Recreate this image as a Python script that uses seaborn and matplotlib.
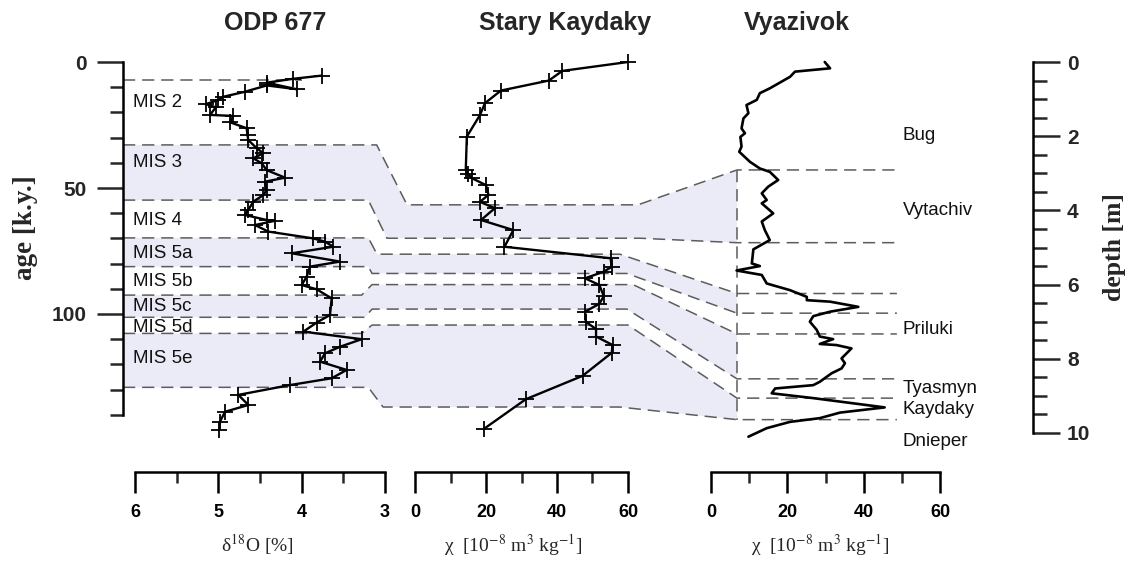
import numpy as np
import matplotlib
matplotlib.use("Agg")
import matplotlib.pyplot as plt
import seaborn as sns
from matplotlib.lines import Line2D
from matplotlib.patches import Polygon

# ---------------- data ----------------
# ODP 677: age [k.y.] and d18O [per mil]
odp_age = [5.4, 6.7, 8.2, 10.8, 9.3, 11.8, 13.8, 15.1, 16.7, 18.0, 21.0, 21.4, 23.9,
           26.3, 29.0, 31.0, 34.2, 36.2, 38.2, 40.2, 42.9, 45.9, 47.5, 50.8, 52.8,
           55.4, 58.7, 60.7, 62.7, 63.0, 64.7, 67.3, 70.0, 71.3, 73.3, 75.9, 79.2,
           81.2, 85.2, 88.5, 90.2, 93.8, 100.4, 103.4, 107.0, 110.0, 113.0, 115.6,
           118.9, 122.2, 125.5, 128.2, 132.1, 136.1, 138.8, 142.7, 146.0]
odp_d18o = [3.76, 4.11, 4.42, 4.06, 4.42, 4.68, 4.94, 5.00, 5.15, 5.03, 5.10, 4.82, 4.86,
            4.66, 4.65, 4.64, 4.54, 4.46, 4.58, 4.48, 4.42, 4.20, 4.44, 4.42, 4.46,
            4.58, 4.64, 4.68, 4.42, 4.32, 4.56, 4.40, 3.86, 3.72, 3.62, 4.12, 3.54,
            3.90, 3.94, 4.00, 3.82, 3.64, 3.66, 3.82, 3.98, 3.28, 3.54, 3.72,
            3.78, 3.46, 3.64, 4.14, 4.76, 4.64, 4.92, 4.98, 4.99]

# Stary Kaydaky: depth [m] and chi
sk_depth = [0.0, 0.24, 0.50, 0.77, 1.11, 1.43, 2.01, 2.91, 3.02, 3.13, 3.32, 3.58, 3.77,
            3.94, 4.26, 4.53, 4.98, 5.29, 5.52, 5.65, 5.83, 6.01, 6.31, 6.52, 6.73,
            7.00, 7.20, 7.40, 7.63, 7.84, 8.46, 9.09, 9.89]
sk_chi = [60.0, 41.5, 37.7, 24.2, 19.7, 18.3, 14.6, 14.3, 15.0, 16.0, 20.0, 20.7, 18.3,
          22.5, 18.6, 27.7, 25.2, 55.1, 55.4, 53.2, 47.9, 51.9, 53.2, 51.9, 47.9,
          48.1, 51.0, 51.0, 55.7, 55.4, 47.2, 31.2, 19.4]

# Vyazivok: depth [m] and chi
vz_depth = [0.0, 0.17, 0.26, 0.40, 0.71, 0.84, 1.02, 1.16, 1.38, 1.52, 1.79, 1.92, 2.02,
            2.28, 2.42, 2.69, 2.87, 2.96, 3.18, 3.36, 3.54, 3.72, 3.81, 4.08, 4.30,
            4.53, 4.80, 5.05, 5.43, 5.50, 5.62, 5.74, 5.97, 6.15, 6.33, 6.42, 6.46,
            6.60, 6.73, 6.85, 7.00, 7.22, 7.40, 7.47, 7.60, 7.63, 7.72, 7.99, 8.12,
            8.26, 8.39, 8.62, 8.71, 8.80, 8.93, 9.06, 9.31, 9.45, 9.60, 9.70, 9.87, 10.10]
vz_chi = [29.8, 31.2, 22.0, 20.7, 15.4, 12.8, 12.0, 9.3, 9.8, 8.5, 8.0, 8.9, 7.7,
          8.0, 7.4, 10.2, 12.8, 15.4, 17.6, 15.0, 13.3, 14.6, 13.3, 16.3, 13.3,
          14.1, 15.4, 11.1, 10.7, 12.8, 6.7, 13.3, 14.6, 20.7, 25.1, 25.1, 31.2,
          38.6, 31.2, 26.8, 25.9, 27.7, 28.5, 32.0, 28.5, 32.9, 36.8, 34.2, 35.1,
          34.2, 31.6, 28.5, 26.8, 16.8, 15.9, 26.8, 45.5, 33.8, 28.5, 20.7, 14.6, 9.8]

# correlation boundaries (ODP age, Stary Kaydaky depth, Vyazivok depth)
bnd_age = [32.9, 54.8, 69.8, 81.2, 92.5, 101.3, 107.7, 129.1]
bnd_sk = [3.85, 4.75, 5.18, 5.70, 6.00, 6.66, 7.09, 9.30]
bnd_vz = [2.91, 4.87, 6.24, 6.77, 7.33, 8.54, 9.06, 9.64]
mis2_top_age = 7.1

mis_labels = ["MIS 2", "MIS 3", "MIS 4", "MIS 5a", "MIS 5b", "MIS 5c", "MIS 5d", "MIS 5e"]
mis_label_age = [15.9, 39.7, 62.7, 75.8, 87.3, 97.2, 105.2, 117.5]

unit_labels = ["Bug", "Vytachiv", "Priluki", "Tyasmyn", "Kaydaky", "Dnieper"]
unit_label_depth = [1.97, 3.99, 7.20, 8.79, 9.38, 10.24]

odp_ticks = [6, 5, 4, 3]
chi_ticks = [0, 20, 40, 60]
age_ticks = [0, 50, 100]
depth_ticks = [0, 2, 4, 6, 8, 10]

# ---------------- style ----------------
sns.set_style("white")
plt.rcParams['font.family'] = ['Liberation Sans', 'DejaVu Sans']
plt.rcParams['mathtext.fontset'] = 'stix'
SERIF = ['Liberation Serif', 'DejaVu Serif']

W, H = 1132, 562
fig = plt.figure(figsize=(W / 100, H / 100), dpi=100)
fig.patch.set_facecolor('white')


def rect(l, t, r, b):
    return [l / W, 1 - b / H, (r - l) / W, (b - t) / H]


TOP, BOT = 62, 472
ax_o = fig.add_axes(rect(123, TOP, 385, BOT))
ax_s = fig.add_axes(rect(415, TOP, 628, BOT))
ax_v = fig.add_axes(rect(711, TOP, 940, BOT))
ov = fig.add_axes([0, 0, 1, 1])
ov.set_xlim(0, 1)
ov.set_ylim(0, 1)
ov.axis('off')
ov.set_zorder(0)
for a in (ax_o, ax_s, ax_v):
    a.set_zorder(2)
    a.patch.set_visible(False)

SPW = 1.8
lk = dict(sort=False, estimator=None, color='black', linewidth=1.7, marker='+',
          markersize=11, markeredgewidth=1.3, markeredgecolor='black')
sns.lineplot(x=odp_d18o, y=odp_age, ax=ax_o, **lk)
sns.lineplot(x=sk_chi, y=sk_depth, ax=ax_s, **lk)
sns.lineplot(x=vz_chi, y=vz_depth, ax=ax_v, sort=False, estimator=None,
             color='black', linewidth=1.9)
for a in (ax_o, ax_s, ax_v):
    for ln in a.lines:
        ln.set_clip_on(False)

ax_o.set_xlim(6 + 12 / 83.33, 3)
ax_o.set_ylim(410 / 2.52, 0)
for a in (ax_s, ax_v):
    a.set_xlim(0, 60)
    a.set_ylim(410 / 37.1, 0)

for a in (ax_o, ax_s, ax_v):
    a.set_xlabel('')
    a.set_ylabel('')
    for s in ('top', 'right', 'left'):
        a.spines[s].set_visible(False)
    a.spines['bottom'].set_linewidth(SPW)
    a.spines['bottom'].set_color('black')
    a.tick_params(axis='x', which='major', direction='out', length=15, width=SPW,
                  pad=8, bottom=True, colors='black')
    a.tick_params(axis='x', which='minor', direction='out', length=8, width=SPW,
                  bottom=True)

# ODP axes
ax_o.spines['bottom'].set_bounds(6, 3)
ax_o.set_xticks(odp_ticks, labels=[str(t) for t in odp_ticks], fontsize=13, fontweight='bold')
ax_o.set_xticks([5.5, 4.5, 3.5], minor=True)
ax_o.spines['left'].set_visible(True)
ax_o.spines['left'].set_linewidth(SPW)
ax_o.spines['left'].set_color('black')
ax_o.spines['left'].set_bounds(0, 140)
ax_o.set_yticks(age_ticks, labels=[str(t) for t in age_ticks], fontsize=15, fontweight='bold')
ax_o.set_yticks(np.arange(0, 141, 10), minor=True)
ax_o.tick_params(axis='y', which='major', direction='out', length=19, width=SPW, pad=7, left=True)
ax_o.tick_params(axis='y', which='minor', direction='out', length=9.5, width=SPW, left=True)

# Stary Kaydaky axes
ax_s.spines['bottom'].set_bounds(0, 60)
ax_s.set_xticks(chi_ticks, labels=[str(t) for t in chi_ticks], fontsize=13, fontweight='bold')
ax_s.set_xticks([10, 30, 50], minor=True)
ax_s.set_yticks([])

# Vyazivok axes + depth axis
ax_v.spines['bottom'].set_bounds(0, 60)
ax_v.set_xticks(chi_ticks, labels=[str(t) for t in chi_ticks], fontsize=13, fontweight='bold')
ax_v.set_xticks([10, 30, 50], minor=True)
ax_v.spines['right'].set_visible(True)
ax_v.spines['right'].set_position(('axes', (1033 - 711) / 229))
ax_v.spines['right'].set_bounds(0, 10)
ax_v.spines['right'].set_linewidth(SPW)
ax_v.spines['right'].set_color('black')
ax_v.yaxis.set_ticks_position('right')
ax_v.set_yticks(depth_ticks, labels=[str(t) for t in depth_ticks], fontsize=15, fontweight='bold')
ax_v.set_yticks(np.arange(0, 10.01, 0.5), minor=True)
ax_v.tick_params(axis='y', which='major', direction='out', length=19.5, width=SPW, pad=5, right=True, left=False)
ax_v.tick_params(axis='y', which='minor', direction='out', length=10, width=SPW, right=True, left=False)

# ---------------- correlation bands and dashed lines ----------------
inv = fig.transFigure.inverted()


def to_fig(ax, x, y):
    return inv.transform(ax.transData.transform((x, y)))


odp_left = 6 + 12 / 83.33
odp_break = [3.10, 3.20, 3.20, 3.20, 3.28, 3.24, 3.28, 3.20]
sk_start = [-2.25, -7.9, -10.7, -12.1, -12.1, -12.1, -12.1, -9.0]
sk_end = [62.8, 63.4, 57.7, 59.7, 61.4, 59.7, 60.0, 57.7]
vz_start, vz_end = 6.8, 48.7

paths = []
for i in range(len(bnd_age)):
    pts = [to_fig(ax_o, odp_left, bnd_age[i]),
           to_fig(ax_o, odp_break[i], bnd_age[i]),
           to_fig(ax_s, sk_start[i], bnd_sk[i]),
           to_fig(ax_s, sk_end[i], bnd_sk[i]),
           to_fig(ax_v, vz_start, bnd_vz[i])]
    paths.append(pts)

BAND = '#ebebf8'
DASH = '#5c5c5c'
for a, b in [(0, 1), (2, 3), (4, 5), (6, 7)]:
    poly = np.vstack([paths[a], paths[b][::-1]])
    ov.add_patch(Polygon(poly, closed=True, facecolor=BAND, edgecolor='none', zorder=1))

dkw = dict(color=DASH, linewidth=1.1, dashes=(8, 4.5), zorder=3)
for i, pts in enumerate(paths):
    full = np.vstack([pts, [to_fig(ax_v, vz_end, bnd_vz[i])]])
    ov.add_line(Line2D(full[:, 0], full[:, 1], **dkw))
p0 = to_fig(ax_v, vz_start, bnd_vz[0])
p1 = to_fig(ax_v, vz_start, bnd_vz[-1])
ov.add_line(Line2D([p0[0], p1[0]], [p0[1], p1[1]], **dkw))
m0 = to_fig(ax_o, odp_left, mis2_top_age)
m1 = to_fig(ax_o, 4.0, mis2_top_age)
ov.add_line(Line2D([m0[0], m1[0]], [m0[1], m1[1]], **dkw))

# ---------------- texts ----------------
for lab, age in zip(mis_labels, mis_label_age):
    ax_o.text(6.02, age, lab, fontsize=13.5, ha='left', va='center', color='#111111')
for lab, d in zip(unit_labels, unit_label_depth):
    ax_v.text(50.3, d, lab, fontsize=13.5, ha='left', va='center', color='#111111')

tkw = dict(fontsize=18, fontweight='bold', ha='center', va='center')
fig.text(275 / W, 1 - 23 / H, "ODP 677", **tkw)
fig.text(565 / W, 1 - 23 / H, "Stary Kaydaky", **tkw)
fig.text(797 / W, 1 - 23 / H, "Vyazivok", **tkw)

fig.text(25 / W, 1 - 228 / H, "age [k.y.]", family=SERIF, fontsize=19.5, fontweight='bold',
         rotation=90, ha='center', va='center')
fig.text(1115 / W, 1 - 247 / H, "depth [m]", family=SERIF, fontsize=18.5, fontweight='bold',
         rotation=90, ha='center', va='center')

bkw = dict(family=SERIF, fontsize=14, ha='center', va='center')
fig.text(257 / W, 1 - 545 / H, "δ$^{18}$O [%]", **bkw)
fig.text(513 / W, 1 - 545 / H, "χ  [10$^{-8}$ m$^{3}$ kg$^{-1}$]", **bkw)
fig.text(820 / W, 1 - 545 / H, "χ  [10$^{-8}$ m$^{3}$ kg$^{-1}$]", **bkw)

fig.savefig("out.png", dpi=100, facecolor='white')
